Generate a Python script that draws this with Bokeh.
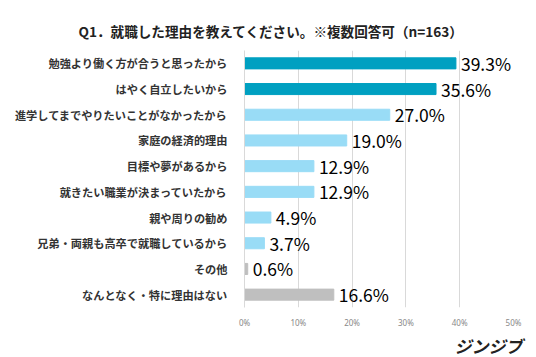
from bokeh.plotting import figure
from bokeh.models import FactorRange, FixedTicker, ColumnDataSource, Title
from bokeh.core.properties import value
from bokeh.embed import file_html
from bokeh.resources import INLINE

categories = [
    "勉強より働く方が合うと思ったから",
    "はやく自立したいから",
    "進学してまでやりたいことがなかったから",
    "家庭の経済的理由",
    "目標や夢があるから",
    "就きたい職業が決まっていたから",
    "親や周りの勧め",
    "兄弟・両親も高卒で就職しているから",
    "その他",
    "なんとなく・特に理由はない",
]
values = [39.3, 35.6, 27.0, 19.0, 12.9, 12.9, 4.9, 3.7, 0.6, 16.6]
groups = ["top", "top", "mid", "mid", "mid", "mid", "mid", "mid", "other", "other"]
tick_values = [0, 10, 20, 30, 40, 50]
tick_labels = ["0%", "10%", "20%", "30%", "40%", "50%"]

palette = {"top": "#00A0C1", "mid": "#99DCF6", "other": "#BFBFBF"}
FONT = "Noto Sans CJK JP"

src = ColumnDataSource(dict(
    cat=categories,
    val=values,
    color=[palette[g] for g in groups],
    label=[f"{v:.1f}%" for v in values],
))

p = figure(
    width=536, height=357,
    x_range=(0, 50),
    y_range=FactorRange(*reversed(categories), range_padding=0),
    output_backend="svg", toolbar_location=None,
    min_border_left=244, min_border_right=23, min_border_top=50, min_border_bottom=49,
)
p.title = Title(text="Q1．就職した理由を教えてください。※複数回答可（n=163）",
                align="left", text_font=FONT, text_font_size="13.6px",
                text_font_style="bold", text_color="#222222", offset=-166)
p.title.standoff = 20

p.hbar(y="cat", right="val", left=0, height=0.43, color="color", source=src)
p.text(x="val", y="cat", text="label", source=src, x_offset=5,
       text_baseline="middle", text_align="left",
       text_font=value(FONT), text_font_size="17.5px",
       text_color="#000000", text_font_style="normal")

p.outline_line_color = None
p.background_fill_color = "white"
p.border_fill_color = "white"

p.xgrid.ticker = FixedTicker(ticks=tick_values)
p.xgrid.grid_line_color = "#D9D9D9"
p.xgrid.grid_line_width = 1
p.ygrid.grid_line_color = None

xa = p.xaxis[0]
xa.ticker = FixedTicker(ticks=tick_values)
xa.major_label_overrides = {t: l for t, l in zip(tick_values, tick_labels)}
xa.axis_line_color = None
xa.major_tick_line_color = None
xa.minor_tick_line_color = None
xa.major_label_text_font = "Noto Sans"
xa.major_label_text_font_size = "8px"
xa.major_label_text_color = "#888888"
xa.major_label_standoff = 3

ya = p.yaxis[0]
ya.axis_line_color = "#D9D9D9"
ya.major_tick_line_color = None
ya.minor_tick_line_color = None
ya.major_label_text_font = FONT
ya.major_label_text_font_size = "11.2px"
ya.major_label_text_font_style = "bold"
ya.major_label_text_color = "#333333"
ya.major_label_standoff = 11

logo = Title(text="ジンジブ", align="right", text_font=FONT, text_font_size="17px",
             text_font_style="bold italic", text_color="#222222", offset=-9, standoff=0)
p.add_layout(logo, "below")

open("out.html", "w").write(file_html(p, INLINE))
